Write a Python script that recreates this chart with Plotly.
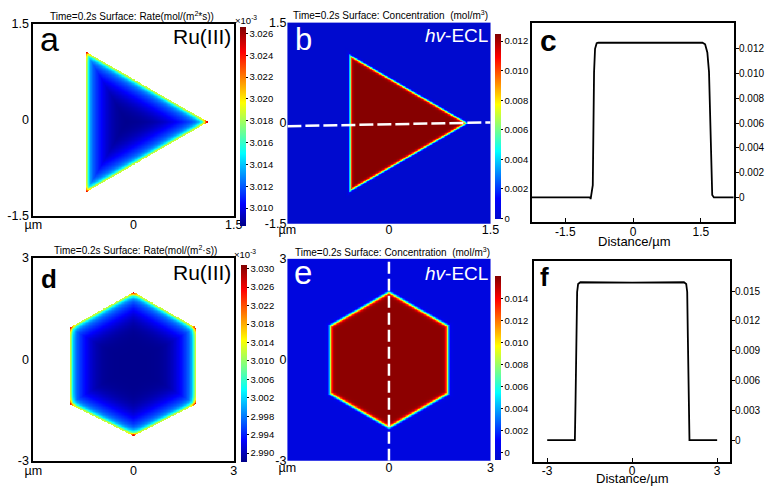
import numpy as np
import plotly.graph_objects as go

W, H = 774, 495
FONT = "Liberation Sans, Arial, sans-serif"

# ---------------- data ----------------
# particle outlines (µm)
a_vert_x = [-0.71, 1.10, -0.71]
a_vert_y = [-1.12, -0.035, 1.05]
b_vert_x = [-0.57, 1.14, -0.57]
b_vert_y = [-1.0, 0.0, 1.0]
d_vert_x = [0.0, 1.85, 1.85, 0.0, -1.90, -1.90]
d_vert_y = [-2.245, -1.315, 0.93, 1.97, 0.93, -1.315]
e_vert_x = [0.0, 1.73, 1.73, 0.0, -1.73, -1.73]
e_vert_y = [-2.0, -1.0, 1.0, 2.0, 1.0, -1.0]

# Ru(III) surface rate levels (x10^-3 mol/(m^2*s)): core, edge, corner
a_rate_levels = [3.0084, 3.0186, 3.0256]
d_rate_levels = [2.9882, 3.0120, 3.0285]
# hv-ECL concentration levels (mol/m^3): outside, inside
b_conc_levels = [0.0, 0.0124]
e_conc_levels = [0.0, 0.0158]

# colour bar ranges and ticks
a_cbar_range = [3.00833, 3.02655]
a_cbar_ticks = [3.010, 3.012, 3.014, 3.016, 3.018, 3.020, 3.022, 3.024, 3.026]
b_cbar_range = [-0.00005, 0.01247]
b_cbar_ticks = [0, 0.002, 0.004, 0.006, 0.008, 0.010, 0.012]
d_cbar_range = [2.98796, 3.0307]
d_cbar_ticks = [2.990, 2.994, 2.998, 3.002, 3.006, 3.010, 3.014, 3.018, 3.022, 3.026, 3.030]
e_cbar_range = [-0.00067, 0.01602]
e_cbar_ticks = [0, 0.002, 0.004, 0.006, 0.008, 0.010, 0.012, 0.014]

# line profiles
c_dist = [-2.246, -0.95, -0.94, -0.892, -0.864, -0.842, -0.806, -0.771, 0.4, 1.533,
          1.592, 1.641, 1.678, 1.721, 1.749, 1.786, 2.225]
c_conc = [0, 0, -0.00013, 0.0010, 0.0101, 0.0120, 0.01245, 0.01250, 0.01249, 0.01250,
          0.01237, 0.01171, 0.01014, 0.00492, 0.0002, 0, 0]
f_dist = [-3.0, -2.023, -2.0, -1.966, -1.943, -1.908, -1.828, 0.0, 1.828, 1.908,
          1.943, 1.966, 2.0, 2.023, 3.0]
f_conc = [0, 0, 0.00382, 0.01034, 0.01491, 0.01572, 0.01589, 0.01586, 0.01589, 0.01572,
          0.01491, 0.01034, 0.00382, 0, 0]

ax_ticks_15 = [-1.5, 0, 1.5]
ax_ticks_3 = [-3, 0, 3]
c_yticks = [0, 0.002, 0.004, 0.006, 0.008, 0.010, 0.012]
f_yticks = [0, 0.003, 0.006, 0.009, 0.012, 0.015]

# ---------------- layout boxes (px) ----------------
PA = (25, 230, 17, 215)
PB = (285, 493, 16, 223)
PC = (535, 742, 16, 221)
PD = (25, 230, 258, 467)
PE = (285, 493, 259, 467)
PF = (537, 738, 261, 468)


def dom(box):
    x0, x1, y0, y1 = box
    return [x0 / W, x1 / W], [1 - y1 / H, 1 - y0 / H]


def sdist(X, Y, vx, vy, sx, sy):
    Xp, Yp = X * sx, Y * sy
    px = np.array(vx) * sx
    py = np.array(vy) * sy
    n = len(px)
    d = np.full(X.shape, np.inf)
    r = np.full(X.shape, np.inf)
    for i in range(n):
        x1, y1 = px[i], py[i]
        x2, y2 = px[(i + 1) % n], py[(i + 1) % n]
        ex, ey = x2 - x1, y2 - y1
        L = np.hypot(ex, ey)
        nx, ny = -ey / L, ex / L
        d = np.minimum(d, (Xp - x1) * nx + (Yp - y1) * ny)
        r = np.minimum(r, np.hypot(Xp - x1, Yp - y1))
    return d, r


def rate_field(box, half, vx, vy, levels, n=340):
    sx = (box[1] - box[0]) / (2 * half)
    sy = (box[3] - box[2]) / (2 * half)
    x = np.linspace(-half, half, n)
    y = np.linspace(-half, half, n)
    X, Y = np.meshgrid(x, y)
    d, r = sdist(X, Y, vx, vy, sx, sy)
    core, edge, corner = levels
    dd = np.maximum(d - 0.6, 0)
    f = (0.45 * np.exp(-dd / 1.8) + 0.25 * np.exp(-dd / 6.0)
         + 0.30 * np.exp(-(dd / 20.0) ** 2))
    v = core + (edge - core) * f + (corner - edge) * np.exp(-r / 2.5)
    v[d < -0.5] = np.nan
    return x, y, v.astype(np.float32)


def conc_field(box, half, vx, vy, levels, w, n=340):
    sx = (box[1] - box[0]) / (2 * half)
    sy = (box[3] - box[2]) / (2 * half)
    x = np.linspace(-half, half, n)
    y = np.linspace(-half, half, n)
    X, Y = np.meshgrid(x, y)
    d, r = sdist(X, Y, vx, vy, sx, sy)
    lo, hi = levels
    v = lo + (hi - lo) / (1 + np.exp(-np.clip(d / w, -50, 50)))
    return x, y, v.astype(np.float32)


jet = [[0, 'rgb(0,0,135)'], [0.111, 'rgb(0,0,255)'], [0.365, 'rgb(0,255,255)'],
       [0.619, 'rgb(255,255,0)'], [0.873, 'rgb(255,0,0)'], [1, 'rgb(128,0,0)']]
jet_b = [[0, 'rgb(0,10,205)'], [0.111, 'rgb(0,0,255)'], [0.365, 'rgb(0,255,255)'],
         [0.619, 'rgb(255,255,0)'], [0.873, 'rgb(255,0,0)'], [1, 'rgb(128,0,0)']]


def cbar(x_px, top_px, bot_px, vals, texts):
    return dict(x=x_px / W, xanchor='left', xpad=0, y=1 - top_px / H, yanchor='top', ypad=0,
                len=bot_px - top_px, lenmode='pixels', thickness=6, thicknessmode='pixels',
                outlinewidth=0, ticks='outside', ticklen=2, tickwidth=1, tickcolor='black',
                tickvals=vals, ticktext=texts,
                tickfont=dict(size=9.5, family=FONT, color='black'))


fig = go.Figure()

xa, ya, za = rate_field(PA, 1.5, a_vert_x, a_vert_y, a_rate_levels)
fig.add_trace(go.Heatmap(x=xa, y=ya, z=za, zmin=a_cbar_range[0], zmax=a_cbar_range[1],
                         colorscale=jet, hoverinfo='skip', xaxis='x', yaxis='y',
                         colorbar=cbar(237, 21, 220, a_cbar_ticks,
                                       ["%.3f" % v for v in a_cbar_ticks])))

xb, yb, zb = conc_field(PB, 1.5, b_vert_x, b_vert_y, b_conc_levels, 0.8)
fig.add_trace(go.Heatmap(x=xb, y=yb, z=zb, zmin=b_cbar_range[0], zmax=b_cbar_range[1],
                         colorscale=jet_b, hoverinfo='skip', xaxis='x2', yaxis='y2',
                         colorbar=cbar(498, 28, 213, b_cbar_ticks,
                                       ["0"] + ["%.3f" % v for v in b_cbar_ticks[1:]])))

fig.add_trace(go.Scatter(x=c_dist, y=c_conc, mode='lines', line=dict(color='black', width=1.8),
                         hoverinfo='skip', xaxis='x3', yaxis='y3', showlegend=False))

xd, yd, zd = rate_field(PD, 3.0, d_vert_x, d_vert_y, d_rate_levels)
fig.add_trace(go.Heatmap(x=xd, y=yd, z=zd, zmin=d_cbar_range[0], zmax=d_cbar_range[1],
                         colorscale=jet, hoverinfo='skip', xaxis='x4', yaxis='y4',
                         colorbar=cbar(238, 266, 463, d_cbar_ticks,
                                       ["%.3f" % v for v in d_cbar_ticks])))

xe, ye, ze = conc_field(PE, 3.0, e_vert_x, e_vert_y, e_conc_levels, 1.0)
fig.add_trace(go.Heatmap(x=xe, y=ye, z=ze, zmin=e_cbar_range[0], zmax=e_cbar_range[1],
                         colorscale=jet_b, hoverinfo='skip', xaxis='x5', yaxis='y5',
                         colorbar=cbar(498, 277, 461, e_cbar_ticks,
                                       ["0"] + ["%.3f" % v for v in e_cbar_ticks[1:]])))

fig.add_trace(go.Scatter(x=f_dist, y=f_conc, mode='lines', line=dict(color='black', width=1.8),
                         hoverinfo='skip', xaxis='x6', yaxis='y6', showlegend=False))

tickfont = dict(size=12.5, family=FONT, color='black')


def map_axes(box, half, ticks, frame, standoff):
    xd_, yd_ = dom(box)
    lbl = ["%g" % t for t in ticks]
    xa_ = dict(domain=xd_, range=[-half, half], tickvals=ticks, ticktext=["µm"] + lbl[1:],
               showgrid=False, zeroline=False, ticks='', showline=frame, mirror=True,
               linecolor='black', linewidth=2, tickfont=tickfont, fixedrange=True,
               ticklabelstandoff=standoff)
    ya_ = dict(domain=yd_, range=[-half, half], tickvals=ticks, ticktext=lbl,
               showgrid=False, zeroline=False, ticks='', showline=frame, mirror=True,
               linecolor='black', linewidth=2, tickfont=tickfont, fixedrange=True)
    return xa_, ya_


def prof_axes(box, xr, yr, xt, xtl, yt, standoff):
    xd_, yd_ = dom(box)
    xa_ = dict(domain=xd_, range=xr, tickvals=xt, ticktext=xtl, showgrid=False,
               zeroline=False, ticks='inside', ticklen=4, tickwidth=1.2, tickcolor='black',
               showline=True, mirror=True, linecolor='black', linewidth=1.8,
               tickfont=dict(size=12, family=FONT, color='black'), fixedrange=True,
               ticklabelstandoff=standoff)
    ya_ = dict(domain=yd_, range=yr, tickvals=yt, showticklabels=False, side='right',
               showgrid=False, zeroline=False, ticks='outside', ticklen=3, tickwidth=1.2,
               tickcolor='black', showline=True, mirror=True, linecolor='black',
               linewidth=1.8, fixedrange=True)
    return xa_, ya_


ax1 = map_axes(PA, 1.5, ax_ticks_15, True, -4)
ax2 = map_axes(PB, 1.5, ax_ticks_15, False, -3)
ax4 = map_axes(PD, 3.0, ax_ticks_3, True, -3)
ax5 = map_axes(PE, 3.0, ax_ticks_3, False, -2)
ax3 = prof_axes(PC, [-2.246, 2.225], [-0.00196, 0.01412], ax_ticks_15, ["-1.5", "0", "1.5"],
                c_yticks, -2)
ax6 = prof_axes(PF, [-3.483, 3.448], [-0.00218, 0.01807], ax_ticks_3, ["-3", "0", "3"],
                f_yticks, -3)

ann = []


def txt(x, y, s, size, color='black', xa_='center', ya_='middle'):
    ann.append(dict(x=x / W, y=1 - y / H, xref='paper', yref='paper', text=s, showarrow=False,
                    xanchor=xa_, yanchor=ya_, font=dict(size=size, color=color, family=FONT)))


# right-hand tick labels of the profile panels
for v in c_yticks:
    ann.append(dict(x=745 / W, y=v, xref='paper', yref='y3', showarrow=False, xanchor='left',
                    yanchor='middle', text="0" if v == 0 else "%.3f" % v,
                    font=dict(size=10, family=FONT, color='black')))
for v in f_yticks:
    ann.append(dict(x=741 / W, y=v, xref='paper', yref='y6', showarrow=False, xanchor='left',
                    yanchor='middle', text="0" if v == 0 else "%.3f" % v,
                    font=dict(size=10, family=FONT, color='black')))

t_rate_a = "Time=0.2s Surface: Rate(mol/(m<sup>2</sup>*s))"
t_rate_d = "Time=0.2s Surface: Rate(mol/(m<sup>2</sup>·s))"
t_conc = "Time=0.2s Surface: Concentration  (mol/m<sup>3</sup>)"
txt(126, 9, t_rate_a, 10)
txt(391, 8, t_conc, 10)
txt(129, 250, t_rate_d, 10)
txt(393, 252, t_conc, 10)
txt(243, 13, "×10<sup>-3</sup>", 9.5)
txt(242, 254, "×10<sup>-3</sup>", 9.5)

txt(41, 33, "a", 34)
txt(301, 33, "b", 31, 'white')
txt(552, 34, "<b>c</b>", 30)
txt(41, 280, "<b>d</b>", 26)
txt(301, 273.5, "e", 33, 'white')
txt(548, 277.5, "<b>f</b>", 26)

txt(229, 30, "Ru(III)", 21, xa_='right')
txt(229, 273, "Ru(III)", 21, xa_='right')
txt(492, 29, "<i>hv</i>-ECL", 19, 'white', xa_='right')
txt(492, 274, "<i>hv</i>-ECL", 19, 'white', xa_='right')

txt(640, 241, "Distance/µm", 13)
txt(638, 485, "Distance/µm", 13)

shapes = [
    dict(type='line', xref='x2', yref='y2', x0=-1.5, y0=-0.045, x1=1.5, y1=0.01,
         line=dict(color='white', width=2.5, dash='14px,4px')),
    dict(type='line', xref='x5', yref='y5', x0=0.0, y0=-3.0, x1=0.0, y1=3.0,
         line=dict(color='white', width=2.5, dash='12px,5px')),
]

fig.update_layout(
    width=W, height=H, margin=dict(l=0, r=0, t=0, b=0),
    paper_bgcolor='white', plot_bgcolor='white', showlegend=False,
    font=dict(family=FONT, color='black'),
    xaxis=dict(ax1[0], anchor='y'), yaxis=dict(ax1[1], anchor='x'),
    xaxis2=dict(ax2[0], anchor='y2'), yaxis2=dict(ax2[1], anchor='x2'),
    xaxis3=dict(ax3[0], anchor='y3'), yaxis3=dict(ax3[1], anchor='x3'),
    xaxis4=dict(ax4[0], anchor='y4'), yaxis4=dict(ax4[1], anchor='x4'),
    xaxis5=dict(ax5[0], anchor='y5'), yaxis5=dict(ax5[1], anchor='x5'),
    xaxis6=dict(ax6[0], anchor='y6'), yaxis6=dict(ax6[1], anchor='x6'),
    annotations=ann, shapes=shapes,
)

fig.write_html("out.html", config={'displayModeBar': False},
               post_script="document.body.style.margin='0px';"
                           "document.body.style.overflow='hidden';")
